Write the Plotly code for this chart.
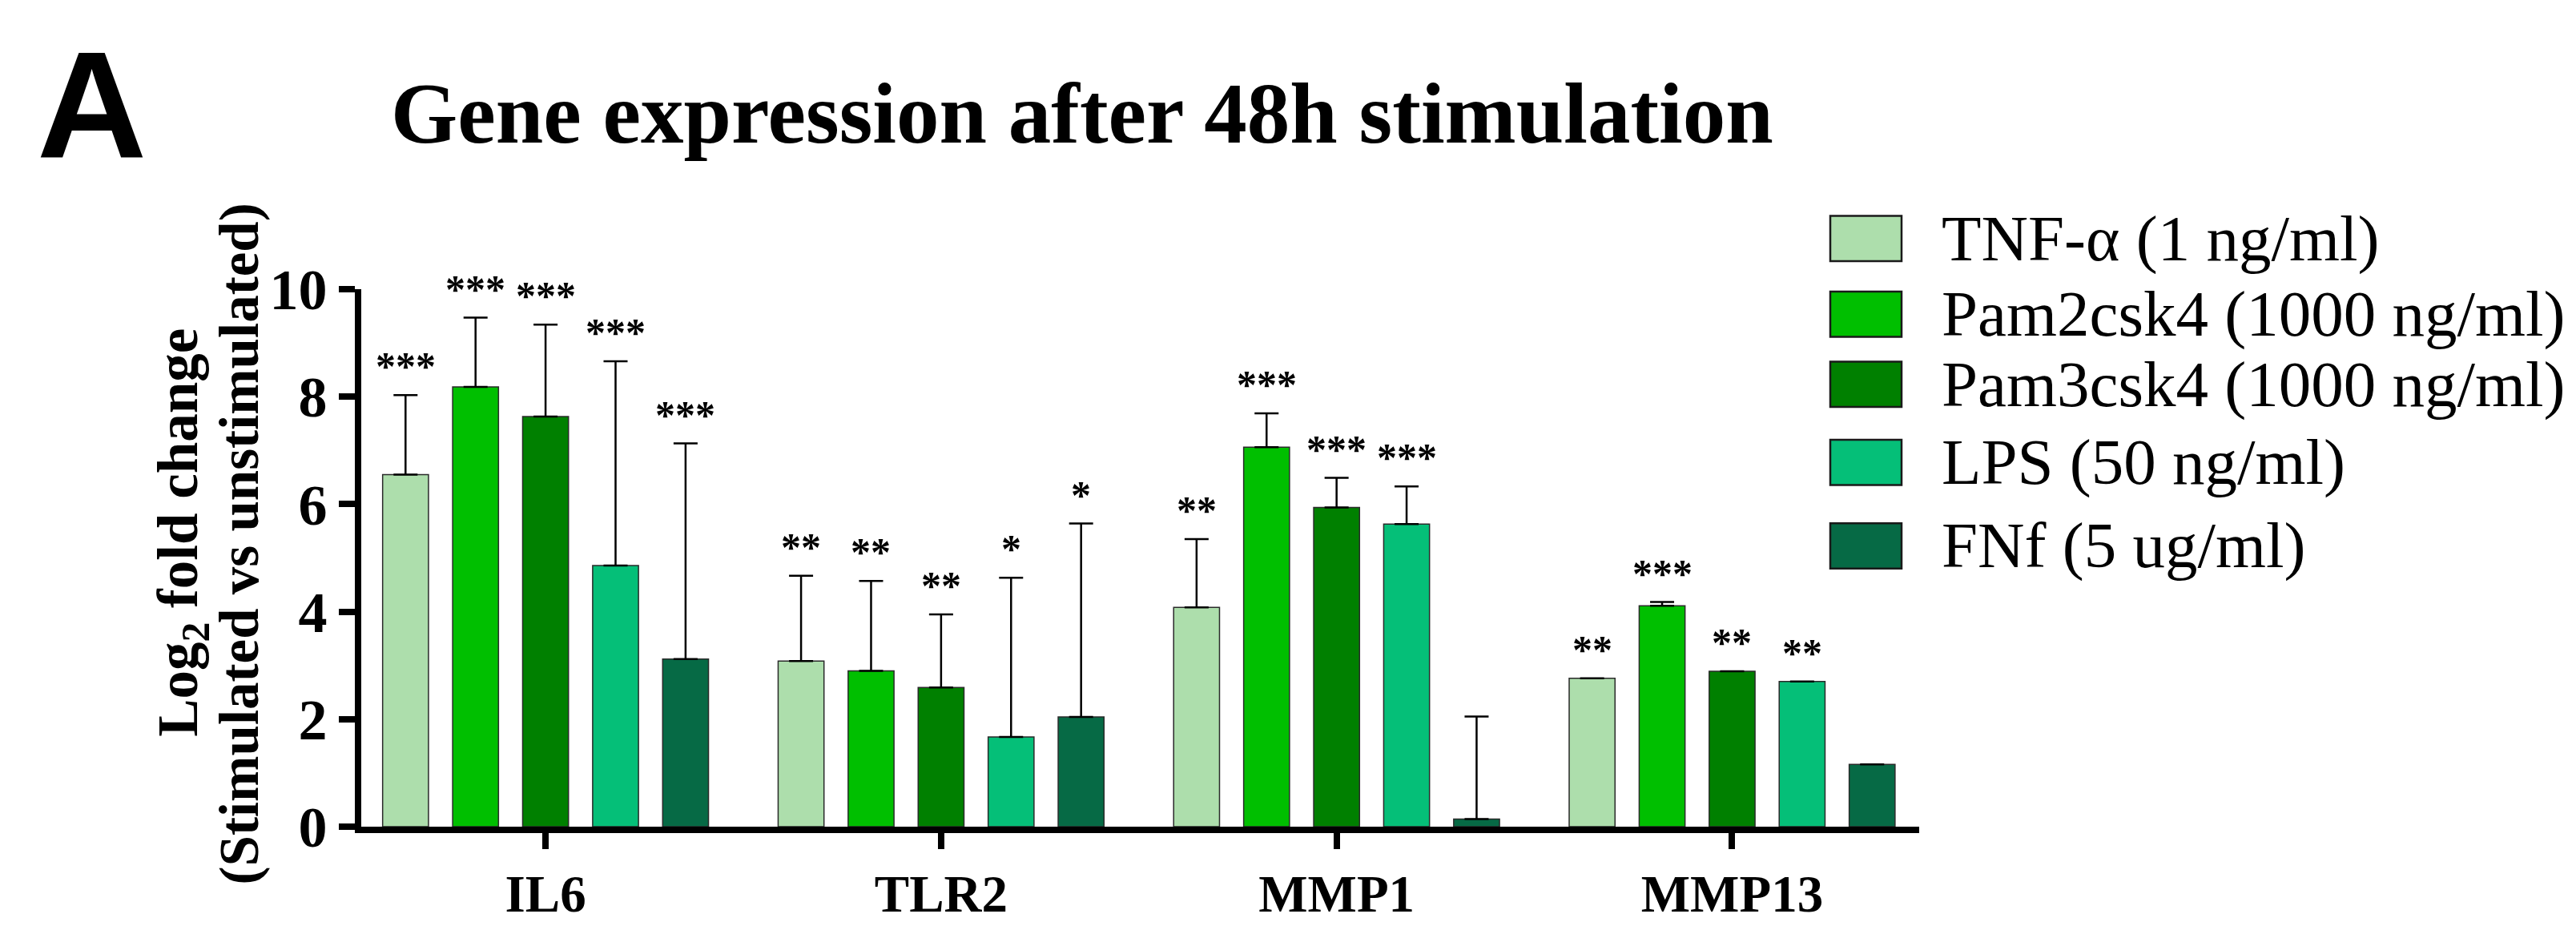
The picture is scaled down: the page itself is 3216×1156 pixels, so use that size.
import plotly.graph_objects as go

genes = ["IL6", "TLR2", "MMP1", "MMP13"]
series_names = ["TNF-α (1 ng/ml)", "Pam2csk4 (1000 ng/ml)", "Pam3csk4 (1000 ng/ml)",
                "LPS (50 ng/ml)", "FNf (5 ug/ml)"]
colors = ["#ADDEAC", "#00BF00", "#008000", "#05BF78", "#066A45"]

# mean log2 fold change per series (order of genes)
tnf_vals = [6.55, 3.08, 4.08, 2.76]
pam2_vals = [8.18, 2.90, 7.06, 4.11]
pam3_vals = [7.63, 2.59, 5.94, 2.89]
lps_vals = [4.86, 1.67, 5.63, 2.70]
fnf_vals = [3.12, 2.04, 0.14, 1.16]

# upper error (SD) per series; None = no error bar
tnf_err = [1.48, 1.59, 1.27, None]
pam2_err = [1.29, 1.67, 0.63, 0.07]
pam3_err = [1.71, 1.36, 0.55, None]
lps_err = [3.80, 2.96, 0.70, None]
fnf_err = [4.01, 3.60, 1.91, None]

# significance labels
tnf_sig = ["***", "**", "**", "**"]
pam2_sig = ["***", "**", "***", "***"]
pam3_sig = ["***", "**", "***", "**"]
lps_sig = ["***", "*", "***", "**"]
fnf_sig = ["***", "*", "", ""]

all_vals = [tnf_vals, pam2_vals, pam3_vals, lps_vals, fnf_vals]
all_err = [tnf_err, pam2_err, pam3_err, lps_err, fnf_err]
all_sig = [tnf_sig, pam2_sig, pam3_sig, lps_sig, fnf_sig]

W, H = 3216, 1156
ML, MR, MT, MB = 443, 828, 353, 114
PW, PH = W - ML - MR, H - MT - MB
SERIF = "Liberation Serif"
BARGAP = 0.115
BARGROUPGAP = 0.345


def px_x(x):
    return (x - ML) / PW


def px_y(y):
    return (H - MB - y) / PH


fig = go.Figure()
for name, col, vals, errs in zip(series_names, colors, all_vals, all_err):
    fig.add_trace(go.Bar(
        x=genes, y=vals, name=name, showlegend=False,
        marker=dict(color=col, line=dict(color="#2a2a2a", width=1.5)),
        error_y=dict(type="data", symmetric=False,
                     array=[e if e is not None else None for e in errs],
                     arrayminus=[0 if e is not None else None for e in errs],
                     color="black", thickness=2.5, width=15),
    ))

annotations = []
n = len(series_names)
pitch = (1 - BARGAP) / n
for j in range(n):
    for i, g in enumerate(genes):
        lab = all_sig[j][i]
        if not lab:
            continue
        top = all_vals[j][i] + (all_err[j][i] or 0)
        annotations.append(dict(
            x=i + (j - (n - 1) / 2) * pitch, y=top, xref="x", yref="y",
            text="<b>" + lab + "</b>", showarrow=False, yanchor="bottom", xanchor="center",
            yshift=6, font=dict(family=SERIF, size=50, color="black")))

# title and panel letter
annotations.append(dict(x=px_x(478), y=px_y(128), xref="paper", yref="paper",
                        text="<b>Gene expression after 48h stimulation</b>",
                        showarrow=False, xanchor="left", yanchor="middle",
                        font=dict(family=SERIF, size=107, color="black")))
annotations.append(dict(x=px_x(36), y=px_y(116), xref="paper", yref="paper",
                        text="<b>A</b>", showarrow=False, xanchor="left", yanchor="middle",
                        font=dict(family="Liberation Sans", size=190, color="black")))
# y axis title (two lines)
annotations.append(dict(x=px_x(220), y=px_y(665), xref="paper", yref="paper",
                        text="<b>Log<sub>2</sub> fold change</b>",
                        showarrow=False, textangle=-90, xanchor="center", yanchor="middle",
                        font=dict(family=SERIF, size=71, color="black")))
annotations.append(dict(x=px_x(291), y=px_y(680), xref="paper", yref="paper",
                        text="<b>(Stimulated vs unstimulated)</b>",
                        showarrow=False, textangle=-90, xanchor="center", yanchor="middle",
                        font=dict(family=SERIF, size=69, color="black")))

# legend (squares + labels)
shapes = []
row_centers = [288, 385, 475, 575, 682]
for name, col, yc in zip(series_names, colors, row_centers):
    shapes.append(dict(type="rect", xref="paper", yref="paper",
                       x0=px_x(2277), x1=px_x(2366), y0=px_y(yc + 29), y1=px_y(yc - 29),
                       fillcolor=col, line=dict(color="#1a1a1a", width=2.5)))
    annotations.append(dict(x=px_x(2414), y=px_y(yc), xref="paper", yref="paper",
                            text=name, showarrow=False, xanchor="left", yanchor="middle",
                            font=dict(family=SERIF, size=81, color="black")))

fig.update_layout(
    width=W, height=H,
    margin=dict(l=ML, r=MR, t=MT, b=MB, pad=0),
    paper_bgcolor="white", plot_bgcolor="white",
    barmode="group", bargap=BARGAP, bargroupgap=BARGROUPGAP,
    showlegend=False,
    annotations=annotations, shapes=shapes,
    xaxis=dict(type="category", range=[-0.466, 3.473], showgrid=False, zeroline=False,
               showline=True, linecolor="black", linewidth=8,
               ticks="outside", ticklen=20, tickwidth=8, tickcolor="black",
               tickfont=dict(family=SERIF, size=65, color="black", weight="bold")),
    yaxis=dict(range=[0, 10], tickvals=[0, 2, 4, 6, 8, 10], showgrid=False, zeroline=False,
               showline=True, linecolor="black", linewidth=8,
               ticks="outside", ticklen=20, tickwidth=8, tickcolor="black",
               tickfont=dict(family=SERIF, size=72, color="black", weight="bold")),
)

fig.write_html("out.html")
